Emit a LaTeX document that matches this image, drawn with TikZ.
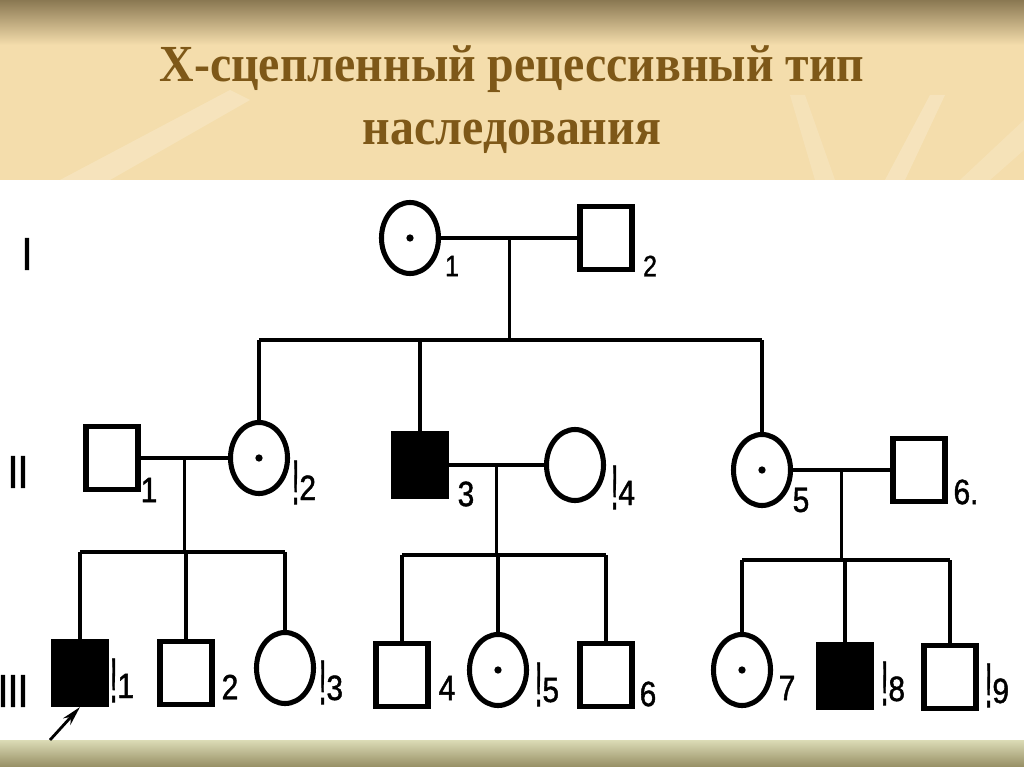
\documentclass[tikz,border=0pt]{standalone}
\usepackage{fontspec}
\setmainfont{Liberation Serif}
\newfontfamily\numfont[FakeStretch=0.85, FakeBold=1.2]{Liberation Sans}
\newfontfamily\genfont[FakeStretch=0.8, FakeBold=2.5]{Liberation Sans}
\usetikzlibrary{shapes.geometric, arrows.meta, calc}
\definecolor{bannerTop}{RGB}{138, 120, 82}
\definecolor{bannerColor}{RGB}{244, 221, 172}
\definecolor{titleColor}{RGB}{126, 88, 24}
\definecolor{stripTop}{RGB}{220, 220, 182}
\definecolor{stripBottom}{RGB}{150, 142, 100}
\newcommand{\excl}{\raisebox{-3pt}{\scalebox{0.9}[1.8]{!}}}

\tikzset{
  male/.style={draw, rectangle, line width=3.6pt, minimum width=1.3cm, minimum height=1.575cm, inner sep=0pt},
  female/.style={draw, ellipse, line width=3.6pt, minimum width=1.425cm, minimum height=1.775cm, inner sep=0pt},
  affected/.style={fill=black},
  carrier/.style={path picture={\fill (path picture bounding box.center) circle (2.6pt);}},
  link/.style={line width=2.4pt},
  num/.style={font=\numfont\fontsize{25}{25}\selectfont, inner sep=0pt},
  numsmall/.style={font=\numfont\fontsize{21}{21}\selectfont, inner sep=0pt},
  gen/.style={font=\genfont\fontsize{32}{32}\selectfont, inner sep=0pt},
  title/.style={font=\rmfamily\bfseries\fontsize{37}{37}\selectfont, text=titleColor, inner sep=0pt, anchor=base}
}

\begin{document}
\begin{tikzpicture}[x=0.025cm, y=-0.025cm]
    \useasboundingbox (0,0) rectangle (1024,767);

    % background
    \fill[bannerColor] (0,0) rectangle (1024,180);
    \shade[top color=bannerTop, bottom color=bannerColor] (0,0) rectangle (1024,45);
    \fill[white, opacity=0.2] (60,180) -- (230,90) -- (250,100) -- (110,180) -- cycle;
    \fill[white, opacity=0.15] (790,95) -- (805,95) -- (835,180) -- (815,180) -- cycle;
    \fill[white, opacity=0.2] (930,95) -- (945,95) -- (905,180) -- (885,180) -- cycle;
    \fill[white, opacity=0.15] (960,180) -- (1024,120) -- (1024,150) -- (990,180) -- cycle;
    \fill[white] (0,180) rectangle (1024,740);
    \shade[top color=stripTop, bottom color=stripBottom] (0,740) rectangle (1024,767);

    % title
    \node[title] (titleA) at (512,82) {\scalebox{0.92}[1]{Х-сцепленный рецессивный тип}};
    \node[title] (titleB) at (512,145) {\scalebox{0.92}[1]{наследования}};

    % generations
    \node[gen] (genI) at (27,254) {I};
    \node[gen] (genII) at (18,472) {II};
    \node[gen] (genIII) at (13,691) {III};

    % generation I
    \node[female, carrier] (i1) at (410,238) {};
    \node[male] (i2) at (606,238) {};
    \node[numsmall] (ni1) at (452,266) {1};
    \node[numsmall] (ni2) at (650,266) {2};

    % generation II
    \node[male] (ii1) at (112,458) {};
    \node[female, carrier] (ii2) at (259,458) {};
    \node[male, affected] (ii3) at (420,465) {};
    \node[female] (ii4) at (575,465) {};
    \node[female, carrier] (ii5) at (762,470) {};
    \node[male] (ii6) at (919,470) {};
    \node[num] (nii1) at (149,490) {1};
    \node[num, anchor=base] (nii2) at (304,500) {\excl2};
    \node[num] (nii3) at (466,494) {3};
    \node[num, anchor=base] (nii4) at (623,505) {\excl4};
    \node[num] (nii5) at (801,500) {5};
    \node[num] (nii6) at (966,492) {6.};

    % generation III
    \node[male, affected] (iii1) at (80,673) {};
    \node[male] (iii2) at (186,673) {};
    \node[female] (iii3) at (285,668) {};
    \node[male] (iii4) at (402,675) {};
    \node[female, carrier] (iii5) at (498,670) {};
    \node[male] (iii6) at (606,675) {};
    \node[female, carrier] (iii7) at (742,670) {};
    \node[male, affected] (iii8) at (845,676) {};
    \node[male] (iii9) at (950,677) {};
    \node[num, anchor=base] (niii1) at (122,698) {\excl1};
    \node[num] (niii2) at (230,687) {2};
    \node[num, anchor=base] (niii3) at (331,700) {\excl3};
    \node[num] (niii4) at (447,688) {4};
    \node[num, anchor=base] (niii5) at (547,702) {\excl5};
    \node[num] (niii6) at (648,694) {6};
    \node[num] (niii7) at (787,688) {7};
    \node[num, anchor=base] (niii8) at (893,701) {\excl8};
    \node[num, anchor=base] (niii9) at (997,703) {\excl9};

    % matings and descent lines
    \draw[link] (i1) -- (i2) coordinate[pos=0.5] (m1);
    \draw[link] (m1) -- ++(0,102) coordinate (s1);
    \draw[link] (s1 -| ii2) -- (s1 -| ii5);
    \foreach \k in {ii2, ii3, ii5}
        \draw[link] (s1 -| \k) -- (\k.north);

    \draw[link] (ii1) -- (ii2) coordinate[pos=0.5] (m2);
    \draw[link] (m2) -- ++(0,94) coordinate (s2);
    \draw[link] (s2 -| iii1) -- (s2 -| iii3);
    \foreach \k in {iii1, iii2, iii3}
        \draw[link] (s2 -| \k) -- (\k.north);

    \draw[link] (ii3) -- (ii4) coordinate[pos=0.5] (m3);
    \draw[link] (m3) -- ++(0,90) coordinate (s3);
    \draw[link] (s3 -| iii4) -- (s3 -| iii6);
    \foreach \k in {iii4, iii5, iii6}
        \draw[link] (s3 -| \k) -- (\k.north);

    \draw[link] (ii5) -- (ii6) coordinate[pos=0.5] (m4);
    \draw[link] (m4) -- ++(0,90) coordinate (s4);
    \draw[link] (s4 -| iii7) -- (s4 -| iii9);
    \foreach \k in {iii7, iii8, iii9}
        \draw[link] (s4 -| \k) -- (\k.north);

    % proband
    \coordinate (proband) at (50,740);
    \draw[line width=2pt, -{Stealth[length=14pt, width=7pt]}] (proband) -- (iii1.south);
\end{tikzpicture}
\end{document}
